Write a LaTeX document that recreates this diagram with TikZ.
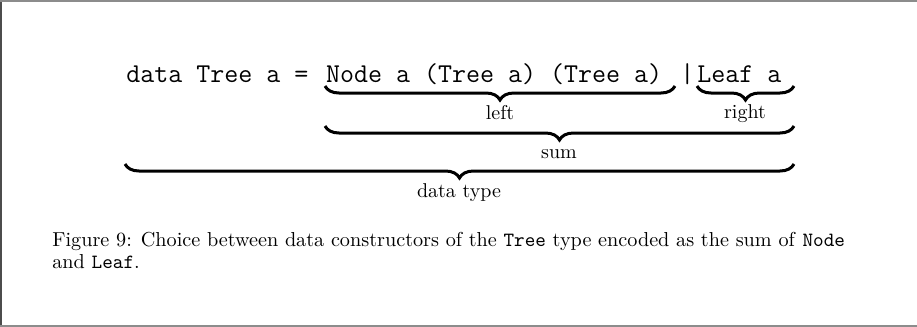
\documentclass[tikz,border=0pt]{standalone}
\usetikzlibrary{decorations.pathreplacing}
\begin{document}
\begin{tikzpicture}[x=0.5pt,y=-0.5pt,
  code/.style={inner sep=0pt, anchor=base west, font=\fontsize{13.6}{16}\selectfont\ttfamily},
  lbl/.style={inner sep=0pt, anchor=base, font=\fontsize{10}{12}\selectfont},
  brc/.style={decorate, decoration={brace, mirror, amplitude=7pt}, line width=1.5pt},
  frm/.style={draw=black!45, line width=0.8pt}]
\useasboundingbox (0,0) rectangle (917,327);
\draw[frm, draw=black!70] (1,0) -- (1,327);
\draw[frm] (0,1) -- (917,1);
\draw[frm] (0,326) -- (917,326);
% code
\node[code] (lhs) at (126,82) {data Tree a =};
\node[code] (nodec) at (325.6,82) {Node a (Tree a) (Tree a)};
\node[code] (bar) at (680,82) {|};
\node[code] (leaf) at (697,82) {Leaf a};
% brace end coordinates
\coordinate (l1) at (325,86);  \coordinate (l2) at (675,86);
\coordinate (r1) at (697,86);  \coordinate (r2) at (794,86);
\coordinate (s1) at (325,126); \coordinate (s2) at (794,126);
\coordinate (d1) at (125,164); \coordinate (d2) at (794,164);
\draw[brc] (l1) -- (l2);
\draw[brc] (r1) -- (r2);
\draw[brc] (s1) -- (s2);
\draw[brc] (d1) -- (d2);
\node[lbl] (left) at (500,119) {left};
\node[lbl] (right) at (745,118) {right};
\node[lbl] (sum) at (559,158) {sum};
\node[lbl] (dt) at (459,197) {data type};
% caption
\node[inner sep=0pt, anchor=base west, align=left, font=\fontsize{10.1}{11}\selectfont] (cap) at (52,268)
 {Figure 9: Choice between data constructors of the \texttt{Tree} type encoded as the sum of \texttt{Node}\\and \texttt{Leaf}.};
\end{tikzpicture}
\end{document}
